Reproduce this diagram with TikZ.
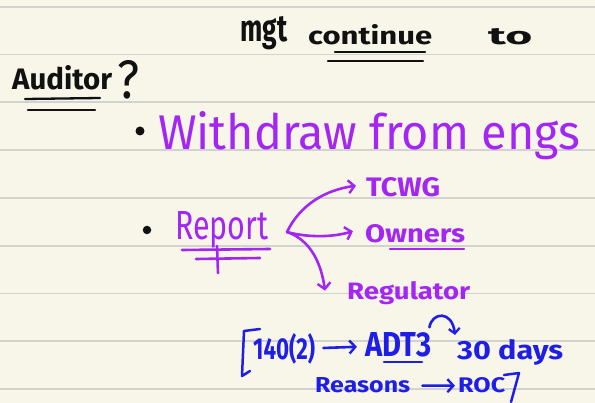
\documentclass[tikz,border=0pt]{standalone}
\usepackage{fontspec}
\setmainfont{Fira Sans}
\usepackage{graphicx}
\usetikzlibrary{arrows.meta}
\definecolor{paper}{HTML}{F8F6E9}
\definecolor{rule}{HTML}{D2D2D0}
\definecolor{ink}{HTML}{111111}
\definecolor{pink}{HTML}{A326F2}
\definecolor{pen}{HTML}{1E1EE6}
% squeeze a word into a given width and height above its baseline
\newcommand{\fitt}[3]{\resizebox{#1pt}{#2pt}{#3}}
\tikzset{
  word/.style={inner sep=0pt, anchor=base west},
  heavy/.style={word, font=\bfseries},
  stroke/.style={line width=2.6pt, line cap=round, line join=round},
  barb/.style={-{Straight Barb[length=6pt,width=13pt,line width=2.4pt]}},
  dot/.style={circle, fill=ink, inner sep=0pt, minimum size=9pt},
}
\begin{document}
\begin{tikzpicture}[x=1pt,y=-1pt]
  % paper and ruling
  \fill[paper] (0,0) rectangle (595,403);
  \useasboundingbox (0,0) rectangle (595,403);
  \foreach \yy in {7,54.5,102,150,198,246,293.5,341,389}
    \draw[rule, line width=1.4pt] (0,\yy) -- (595,\yy);

  % heading
  \node[heavy, text=ink] (mgt) at (240,42) {\fitt{47}{25}{mgt}};
  \node[heavy, text=ink] (cont) at (308,45) {\fitt{124}{20}{continue}};
  \node[heavy, text=ink] (to) at (488,45) {\fitt{44}{16}{to}};
  \draw[ink, stroke, line width=2.3pt] (335,52) -- (425,52);
  \draw[ink, stroke, line width=2.3pt] (328,61) -- (423,61);

  \node[heavy, text=ink] (aud) at (12,90) {\fitt{100}{24}{Auditor}};
  \node[word, text=ink] (qm) at (117,99) {\fitt{22}{38}{?}};
  \draw[ink, stroke, line width=2.3pt] (25,99) -- (100,98);
  \draw[ink, stroke, line width=2.3pt] (28,110) -- (95,110);

  % first point
  \node[dot] (b1) at (140,131) {};
  \node[word, text=pink] (wd) at (158,150) {\fitt{422}{38}{Withdraw from engs}};

  % second point
  \node[dot, minimum size=8.5pt] (b2) at (147,230) {};
  \node[word, text=pink] (rep) at (175,240) {\fitt{93}{28}{Report}};
  \draw[pink, stroke] (182,250) -- (270,249);
  \draw[pink, stroke] (196,259) -- (260,258);
  \draw[pink, stroke] (217,246) -- (218,273);

  \node[heavy, text=pink] (tcwg) at (366,197) {\fitt{74}{19}{TCWG}};
  \node[heavy, text=pink] (own) at (365,243) {\fitt{100}{18}{Owners}};
  \draw[pink, stroke] (390,249) -- (464,249);
  \node[heavy, text=pink] (reg) at (347,300) {\fitt{123}{18}{Regulator}};

  \coordinate (fork) at (287,232);
  \draw[pink, stroke, barb] (fork) .. controls (300,205) and (325,190) .. ([xshift=-10pt,yshift=2pt]tcwg.west);
  \draw[pink, stroke, barb] (fork) .. controls (305,237) and (330,238) .. ([xshift=-12pt,yshift=3pt]own.west);
  \draw[pink, stroke, barb] (fork) .. controls (305,238) and (320,255) .. ([xshift=-22pt,yshift=3pt]reg.west);

  % section reference in blue
  \draw[pen, stroke, line width=2.5pt] (260,329) -- (244,331) -- (242,376) -- (250,371);
  \node[heavy, text=pen] (sec) at (253,360) {\fitt{62}{26}{140(2)}};
  \node[heavy, text=pen] (adt) at (365,357) {\fitt{66}{24}{ADT3}};
  \draw[pen, stroke, barb, shorten <=8pt, shorten >=8pt] (sec) -- (adt);
  \draw[pen, stroke] (384,362) -- (422,362);
  \node[heavy, text=pen] (days) at (457,360) {\fitt{106}{20}{30 days}};
  \draw[pen, stroke, -{Straight Barb[length=5pt,width=11pt,line width=2.2pt]}]
    ([xshift=-2pt,yshift=18pt]adt.east) .. controls (432,312) and (452,310) .. ([xshift=-2pt,yshift=18pt]days.west);

  \node[heavy, text=pen] (rsn) at (315,393) {\fitt{95}{15}{Reasons}};
  \node[heavy, text=pen] (roc) at (458,393) {\fitt{47}{15}{ROC}};
  \draw[pen, stroke, barb, shorten <=12pt, shorten >=3pt] (rsn) -- (roc);
  \draw[pen, stroke, line width=2.5pt] (504,375) -- (519,373) -- (511,402);
\end{tikzpicture}
\end{document}
